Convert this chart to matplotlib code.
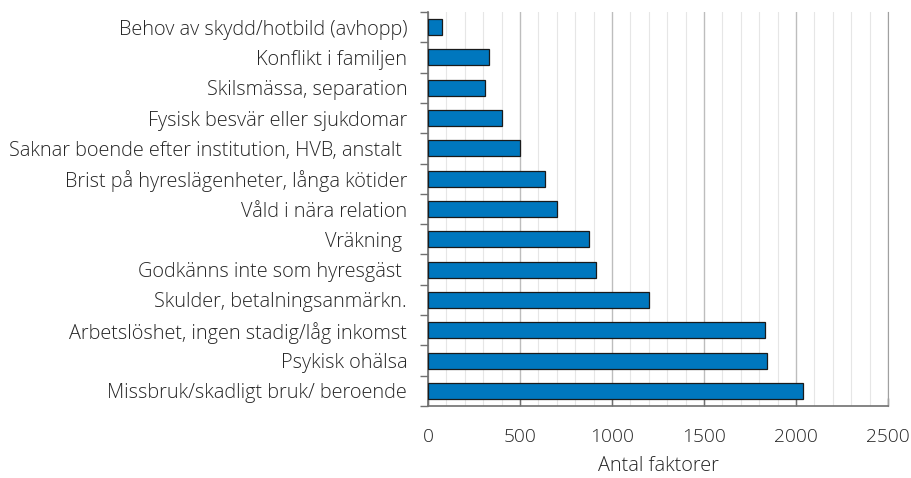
import matplotlib.pyplot as plt
from matplotlib.ticker import MultipleLocator

# categories listed bottom to top
categories = [
    "Missbruk/skadligt bruk/ beroende",
    "Psykisk ohälsa",
    "Arbetslöshet, ingen stadig/låg inkomst",
    "Skulder, betalningsanmärkn.",
    "Godkänns inte som hyresgäst ",
    "Vräkning ",
    "Våld i nära relation",
    "Brist på hyreslägenheter, långa kötider",
    "Saknar boende efter institution, HVB, anstalt ",
    "Fysisk besvär eller sjukdomar",
    "Skilsmässa, separation",
    "Konflikt i familjen",
    "Behov av skydd/hotbild (avhopp)",
]
values = [2040, 1840, 1833, 1200, 915, 873, 703, 636, 502, 402, 310, 333, 78]
x_ticks = [0, 500, 1000, 1500, 2000, 2500]

plt.rcParams['font.family'] = ['Open Sans', 'DejaVu Sans']
text_color = '#262626'

fig = plt.figure(figsize=(9.12, 4.78), dpi=100)
ax = fig.add_axes([0.4693, 0.1506, 0.5044, 0.8243])

ypos = list(range(len(categories)))
ax.barh(ypos, values, height=0.53, color='#0077be', edgecolor='#1a1a1a',
        linewidth=0.9, zorder=3)

ax.set_xlim(0, 2500)
ax.set_ylim(-0.5, len(categories) - 0.5)
ax.set_xticks(x_ticks)
ax.xaxis.set_minor_locator(MultipleLocator(100))
ax.grid(axis='x', which='major', color='#bdbdbd', linewidth=1.0, zorder=0)
ax.grid(axis='x', which='minor', color='#e6e6e6', linewidth=0.8, zorder=0)
ax.set_axisbelow(True)

# category labels centred, tick marks at category boundaries
ax.set_yticks(ypos)
ax.set_yticklabels(categories)
ax.set_yticks([i - 0.5 for i in range(len(categories) + 1)], minor=True)
ax.tick_params(axis='y', which='major', length=0, pad=15, labelsize=14.3,
               labelcolor=text_color)
ax.tick_params(axis='y', which='minor', length=6, width=1, color='#707070',
               direction='out')
ax.tick_params(axis='x', which='major', direction='in', length=6, width=1,
               color='#707070', labelsize=13.8, labelcolor=text_color, pad=16)
ax.tick_params(axis='x', which='minor', length=0)

for lab in ax.get_yticklabels() + ax.get_xticklabels():
    lab.set_fontweight('light')

ax.spines['top'].set_visible(False)
ax.spines['right'].set_color('#a0a0a0')
ax.spines['left'].set_color('#707070')
ax.spines['bottom'].set_color('#707070')
ax.spines['left'].set_linewidth(1.2)
ax.spines['bottom'].set_linewidth(1.2)

ax.set_xlabel('Antal faktorer', fontsize=14.3, color=text_color,
              fontweight='light', labelpad=7)

plt.savefig('out.png', dpi=100)
